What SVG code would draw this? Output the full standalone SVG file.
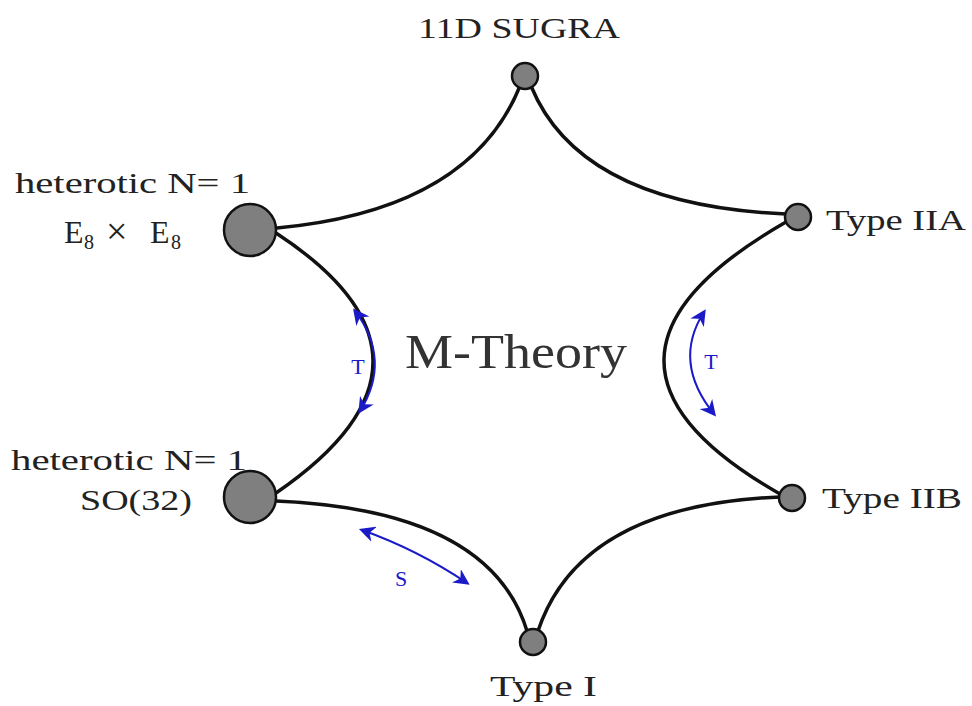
<svg xmlns="http://www.w3.org/2000/svg" width="972" height="706" viewBox="0 0 972 706">
<defs>
<style>
.edge{fill:none;stroke:#111;stroke-width:3.5}
.dual{fill:none;stroke:#1a1ac8;stroke-width:2}
.node{fill:#7f7f7f;stroke:#111;stroke-width:2.5}
.lbl{font-family:"Liberation Serif","DejaVu Serif",serif;font-size:30px;fill:#222}
.sub{font-family:"Liberation Serif","DejaVu Serif",serif;font-size:20px;fill:#222}
.big{font-family:"Liberation Serif","DejaVu Serif",serif;font-size:48px;fill:#333}
.blbl{font-family:"Liberation Serif","DejaVu Serif",serif;font-size:22px;fill:#1a1ac8}
</style>
<marker id="ah" viewBox="0 0 10 10" refX="8" refY="5" markerWidth="8" markerHeight="8" orient="auto-start-reverse">
<path d="M0,0 L10,5 L0,10 L3,5 Z" fill="#1a1ac8"/>
</marker>
</defs>
<rect width="972" height="706" fill="#fff"/>
<g id="connectors">
<path class="edge" d="M520,86 Q470,210 277,228"/>
<path class="edge" d="M531,86 Q580,205 786,214"/>
<path class="edge" d="M276,233 Q470,360 276,493"/>
<path class="edge" d="M786,222 Q545,360 780,494"/>
<path class="edge" d="M276,501 Q490,510 527,631"/>
<path class="edge" d="M780,497 Q580,505 538,631"/>
</g>
<g id="dualities">
<g id="t-left"><path class="dual" d="M355,311 Q392,360 360,411" marker-start="url(#ah)" marker-end="url(#ah)"/><text class="blbl" x="358" y="374" text-anchor="middle">T</text></g>
<g id="t-right"><path class="dual" d="M704,312 Q672,362 714,414" marker-start="url(#ah)" marker-end="url(#ah)"/><text class="blbl" x="711" y="369" text-anchor="middle">T</text></g>
<g id="s-dual"><path class="dual" d="M362,530 Q418,550 467,583" marker-start="url(#ah)" marker-end="url(#ah)"/><text class="blbl" x="401" y="586" text-anchor="middle">S</text></g>
</g>
<g id="sugra"><circle class="node" cx="525" cy="76" r="13"/><text class="lbl" x="418" y="38" textLength="202" lengthAdjust="spacingAndGlyphs">11D SUGRA</text></g>
<g id="iia"><circle class="node" cx="798" cy="217" r="13"/><text class="lbl" x="826" y="230" textLength="140" lengthAdjust="spacingAndGlyphs">Type IIA</text></g>
<g id="iib"><circle class="node" cx="792" cy="498" r="13"/><text class="lbl" x="822" y="508" textLength="140" lengthAdjust="spacingAndGlyphs">Type IIB</text></g>
<g id="typeI"><circle class="node" cx="533" cy="642" r="13"/><text class="lbl" x="490" y="696" textLength="107" lengthAdjust="spacingAndGlyphs">Type I</text></g>
<g id="e8"><circle class="node" cx="250" cy="230" r="26"/><text class="lbl" x="15" y="193" textLength="235" lengthAdjust="spacingAndGlyphs">heterotic N= 1</text><text class="lbl" x="64" y="243" style="font-size:32px">E<tspan class="sub" x="84" y="249">8</tspan><tspan x="106" y="244" style="font-size:38px">×</tspan><tspan x="150" y="243">E</tspan><tspan class="sub" x="171" y="249">8</tspan></text></g>
<g id="so32"><circle class="node" cx="250" cy="497" r="26"/><text class="lbl" x="11" y="470" textLength="236" lengthAdjust="spacingAndGlyphs">heterotic N= 1</text><text class="lbl" x="80" y="510" textLength="112" lengthAdjust="spacingAndGlyphs">SO(32)</text></g>
<g id="mtheory"><text class="big" x="405" y="368" textLength="222" lengthAdjust="spacingAndGlyphs">M-Theory</text></g>
</svg>
